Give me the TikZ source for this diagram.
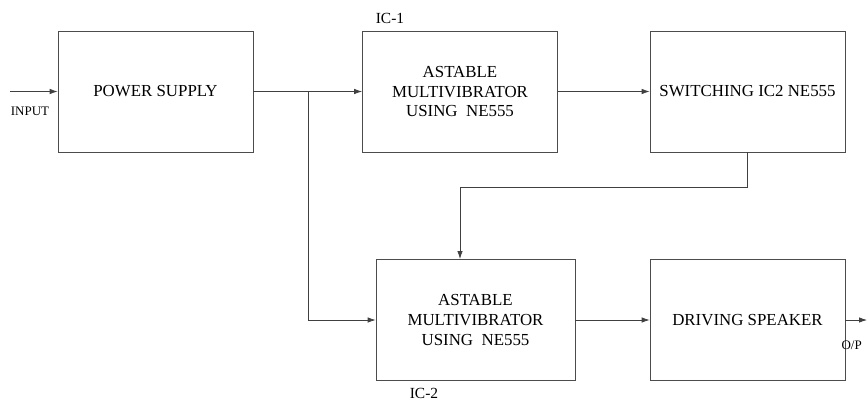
\documentclass[tikz,border=0pt]{standalone}
\usepackage{fontspec}
\setmainfont{Liberation Serif}
\usetikzlibrary{arrows.meta}

\begin{document}
\begin{tikzpicture}[%
        > = {Latex[length=1.6mm, width=1.1mm]},
        x = 0.02cm, y = -0.02cm,
        line width = 0.15mm,
        draw = black!75,
        block/.style = {draw = black!70, line width = 0.15mm, minimum width = 3.9cm,
            minimum height = 2.42cm, align = center,
            font = \fontsize{9.6}{11.2}\selectfont},
        tag/.style = {font = \fontsize{8.8}{11}\selectfont},
        small/.style = {font = \fontsize{7.4}{9}\selectfont}
    ]

        % fix the page size.
        \useasboundingbox (0, 0) rectangle (868, 403);

        % blocks of the upper row.
        \node[block] (power) at (155.5, 91.5) {POWER SUPPLY};
        \node[block] (astA) at (460, 91.5) {ASTABLE\\MULTIVIBRATOR\\USING\ \ NE555};
        \node[block] (switch) at (747.5, 91.5) {SWITCHING IC2 NE555};

        % blocks of the lower row.
        \node[block, minimum width = 3.98cm] (astB) at (475.5, 320) {ASTABLE\\MULTIVIBRATOR\\USING\ \ NE555};
        \node[block] (speaker) at (747.5, 320) {DRIVING SPEAKER};

        % free ends and corners.
        \coordinate (in) at (10, 91.5);
        \coordinate (out) at (867, 320);
        \coordinate (split) at (308, 91.5);
        \coordinate (turn) at (747.5, 187);

        % Labels.
        \node[small] (lblin) at (30, 111) {INPUT};
        \node[small, anchor = east] (lblout) at (868, 345) {O/P};
        \node[tag] (lblA) at (390, 18) {IC-1};
        \node[tag] (lblB) at (424, 393) {IC-2};

        % Connectors.
        \draw[->] (in) to (power.west);
        \draw[->] (power.east) to (astA.west);
        \draw[->] (astA.east) to (switch.west);
        \draw[->] (split) |- (astB.west);
        \draw[->] (switch.south) to (turn) -| (460, 259);
        \draw[->] (astB.east) to (speaker.west |- astB.east);
        \draw[->] (speaker.east) to (out);
    \end{tikzpicture}
\end{document}
